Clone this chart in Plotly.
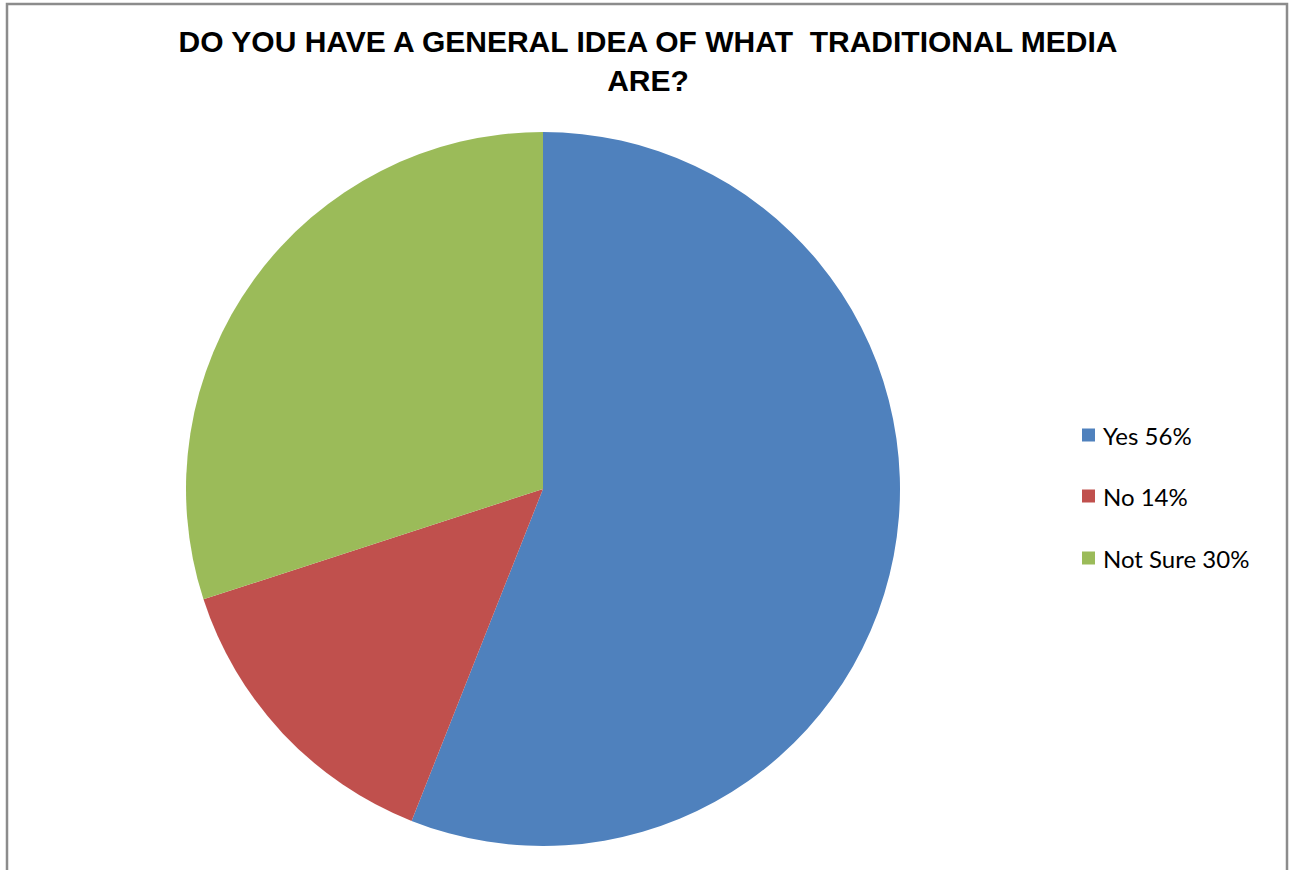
import plotly.graph_objects as go

# Survey responses
categories = ["Yes", "No", "Not Sure"]
percentages = [56, 14, 30]
slice_colors = ["#4F81BD", "#C0504D", "#9BBB59"]
chart_title = "DO YOU HAVE A GENERAL IDEA OF WHAT \u00a0TRADITIONAL MEDIA<br>ARE?"

W, H = 1292, 870

fig = go.Figure(
    go.Pie(
        labels=categories,
        values=percentages,
        marker=dict(colors=slice_colors, line=dict(width=0)),
        sort=False,
        direction="clockwise",
        rotation=0,
        textinfo="none",
        hoverinfo="label+percent",
        showlegend=False,
        domain=dict(x=[186 / W, 900 / W], y=[1 - 846 / H, 1 - 132 / H]),
    )
)

# Hand-built legend: colour square plus "label value%" text per slice
shapes = [
    dict(type="rect", xref="paper", yref="paper",
         x0=7 / W, x1=1287 / W, y0=-0.05, y1=1 - 4 / H,
         line=dict(color="#8C8C8C", width=2.5), fillcolor="rgba(0,0,0,0)")
]
annotations = []
legend_y = [435, 496, 558]
for lab, val, col, yy in zip(categories, percentages, slice_colors, legend_y):
    shapes.append(dict(type="rect", xref="paper", yref="paper",
                       x0=1082 / W, x1=1095 / W,
                       y0=1 - (yy + 6.5) / H, y1=1 - (yy - 6.5) / H,
                       line=dict(width=0), fillcolor=col))
    annotations.append(dict(text=f"{lab} {val}%", xref="paper", yref="paper",
                            x=1101 / W, y=1 - yy / H, xanchor="left", yanchor="middle",
                            showarrow=False,
                            font=dict(family="Lato, Carlito, sans-serif", size=24, color="#000000")))

fig.update_layout(
    width=W, height=H,
    margin=dict(l=0, r=0, t=0, b=0),
    paper_bgcolor="white",
    plot_bgcolor="white",
    title=dict(text=chart_title, x=648 / W, xanchor="center",
               yref="container", y=1 - 52 / H, yanchor="top",
               font=dict(family="Liberation Sans, Arial, sans-serif", size=30,
                         color="#000000", weight="bold")),
    shapes=shapes,
    annotations=annotations,
)

fig.write_html("out.html")
